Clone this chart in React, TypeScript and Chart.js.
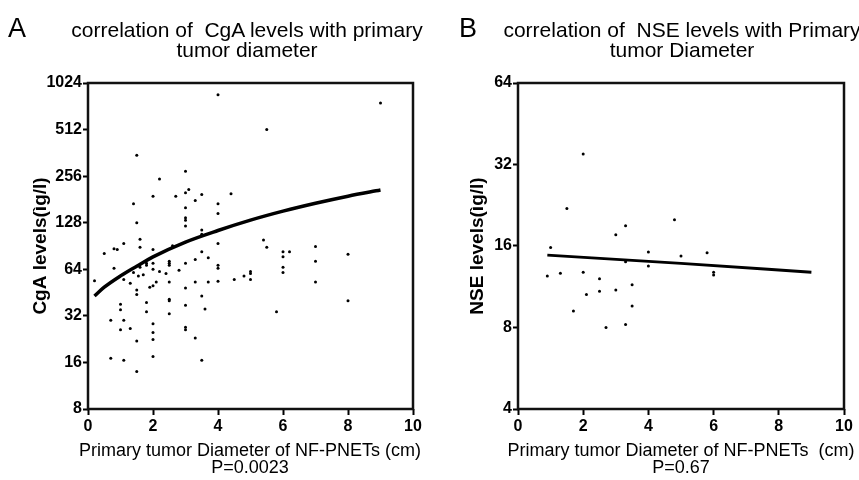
import React, { useEffect, useRef } from "react";
import { Chart, registerables } from "chart.js";
Chart.register(...registerables);

const FONT = "'Liberation Sans', Arial, sans-serif";

const xTicks = [0, 2, 4, 6, 8, 10];
const cgaTicks = [8, 16, 32, 64, 128, 256, 512, 1024];
const nseTicks = [4, 8, 16, 32, 64];

const cgaX = [4.0, 1.5, 3.0, 2.2, 3.1, 3.0, 2.0, 2.7, 3.5, 4.4, 3.3, 1.4, 4.0, 3.0, 4.0, 3.0, 3.0, 1.5, 3.0, 3.5, 3.5, 1.6, 1.1, 1.6, 0.8, 0.9, 2.0, 4.0, 3.5, 0.5, 3.7, 2.6, 9.0, 5.5, 5.4, 5.5, 7.0, 6.0, 6.2, 6.0, 8.0, 7.0, 5.0, 5.0, 5.0, 6.0, 6.0, 7.0, 8.0, 5.8, 3.3, 3.0, 2.5, 2.5, 2.5, 0.8, 1.8, 1.8, 2.0, 1.6, 2.0, 2.2, 2.4, 2.8, 4.0, 4.0, 1.4, 1.55, 1.7, 1.1, 1.3, 1.9, 2.0, 2.1, 2.5, 3.0, 3.3, 3.7, 4.0, 4.5, 4.8, 0.2, 1.5, 1.5, 2.5, 2.5, 3.5, 1.0, 1.8, 3.0, 1.0, 1.8, 3.6, 2.5, 0.7, 1.1, 2.0, 1.0, 1.3, 2.0, 3.0, 3.0, 3.3, 2.0, 1.5, 2.0, 0.7, 1.1, 3.5, 1.5];
const cgaY = [860, 350, 275, 245, 210, 200, 190, 190, 195, 197, 178, 170, 170, 160, 147, 138, 133, 128, 122, 115, 108, 100, 94, 89, 87, 86, 86, 94, 83, 81, 76, 91, 760, 512, 99, 89, 90, 83, 83, 77, 80, 72, 62, 60, 55, 66, 61, 53, 40, 34, 74, 70, 72, 70, 68, 65, 70, 68, 70, 66, 64, 62, 60, 63, 68, 65, 61, 58, 59, 55, 52, 49, 50, 53, 53, 48.5, 53, 53, 53.5, 55, 58, 54, 47, 44, 41, 40, 43, 38, 39, 37.5, 35, 34, 35.5, 33, 30, 30, 28.5, 26, 26.5, 25, 27, 26, 23, 22.5, 22, 17.5, 17, 16.5, 16.5, 14];

const cgaFitX = [0.2, 0.5, 1, 1.5, 2, 3, 4, 5, 6, 7, 8, 9];
const cgaFitY = [43, 49, 58, 67, 77, 96, 114, 133, 152, 171, 190, 208];

const nseX = [2.0, 1.5, 3.3, 3.0, 4.8, 1.0, 4.0, 3.3, 4.0, 0.9, 1.3, 2.0, 2.5, 3.5, 2.1, 2.5, 3.0, 3.5, 1.7, 2.7, 3.3, 5.0, 5.8, 6.0, 6.0];
const nseY = [35, 22, 19, 17.6, 20, 15.8, 15.2, 14, 13.5, 12.4, 12.7, 12.8, 12.1, 11.5, 10.6, 10.9, 11, 9.6, 9.2, 8.0, 8.2, 14.7, 15.1, 12.8, 12.5];

const nseFitX = [0.9, 5, 9];
const nseFitY = [14.8, 13.8, 12.8];

const framePlugin = {
  id: "frame",
  afterDatasetsDraw(chart: any) {
    const { ctx, chartArea: a } = chart;
    ctx.save();
    ctx.strokeStyle = "#111";
    ctx.lineWidth = 2.5;
    ctx.strokeRect(a.left, a.top, a.right - a.left, a.bottom - a.top);
    ctx.restore();
  },
};

type PanelProps = {
  width: number;
  padRight: number;
  yTicks: number[];
  yTitle: string;
  px: number[];
  py: number[];
  fx: number[];
  fy: number[];
  fitWidth: number;
  yTitlePad: number;
};

function Panel(p: PanelProps) {
  const ref = useRef<HTMLCanvasElement>(null);
  useEffect(() => {
    if (!ref.current) return;
    const chart = new Chart(ref.current, {
      type: "scatter",
      data: {
        datasets: [
          {
            type: "line",
            data: p.fx.map((x, i) => ({ x, y: p.fy[i] })),
            borderColor: "#000",
            borderWidth: p.fitWidth,
            pointRadius: 0,
            cubicInterpolationMode: "monotone",
            fill: false,
          } as any,
          {
            data: p.px.map((x, i) => ({ x, y: p.py[i] })),
            pointRadius: 1.5,
            backgroundColor: "#000",
            borderWidth: 0,
          },
        ],
      },
      options: {
        responsive: false,
        animation: false,
        layout: { padding: { left: 0, top: 83, right: p.padRight, bottom: 0 } },
        plugins: { legend: { display: false }, tooltip: { enabled: false } },
        scales: {
          x: {
            type: "linear",
            min: 0,
            max: 10,
            afterBuildTicks: (s: any) => {
              s.ticks = xTicks.map((v) => ({ value: v }));
            },
            afterFit: (s: any) => {
              s.height = 71;
            },
            grid: {
              display: true,
              drawOnChartArea: false,
              drawTicks: true,
              tickLength: 6,
              tickWidth: 2,
              tickColor: "#000",
            },
            border: { display: false },
            ticks: {
              color: "#000",
              font: { family: FONT, size: 16, weight: "bold" },
              padding: 2,
              maxRotation: 0,
              autoSkip: false,
              callback: (v: any) => String(v),
            },
          },
          y: {
            type: "logarithmic",
            min: p.yTicks[0],
            max: p.yTicks[p.yTicks.length - 1],
            afterBuildTicks: (s: any) => {
              s.ticks = p.yTicks.map((v) => ({ value: v }));
            },
            afterFit: (s: any) => {
              s.width = 88;
            },
            grid: {
              display: true,
              drawOnChartArea: false,
              drawTicks: true,
              tickLength: 5,
              tickWidth: 2,
              tickColor: "#000",
            },
            border: { display: false },
            ticks: {
              color: "#000",
              font: { family: FONT, size: 16, weight: "bold" },
              padding: 1,
              autoSkip: false,
              callback: (v: any) => String(v),
            },
            title: {
              display: true,
              text: p.yTitle,
              color: "#000",
              font: { family: FONT, size: 19, weight: "bold" },
              padding: { top: p.yTitlePad, bottom: 0 },
            },
          },
        },
      } as any,
      plugins: [framePlugin],
    });
    return () => chart.destroy();
  }, []);
  return <canvas ref={ref} width={p.width} height={480} style={{ display: "block", width: p.width, height: 480 }} />;
}

const titleStyle: React.CSSProperties = {
  position: "absolute",
  fontFamily: FONT,
  fontSize: 21,
  lineHeight: "20px",
  textAlign: "center",
  whiteSpace: "pre",
  color: "#000",
  top: 20,
};

const xTitleStyle: React.CSSProperties = {
  position: "absolute",
  fontFamily: FONT,
  fontSize: 18,
  lineHeight: "17px",
  textAlign: "center",
  whiteSpace: "pre",
  color: "#000",
  top: 442,
};

const letterStyle: React.CSSProperties = {
  position: "absolute",
  fontFamily: FONT,
  fontSize: 27,
  lineHeight: "27px",
  color: "#000",
  top: 15,
};

export default function App() {
  return (
    <div style={{ position: "fixed", left: 0, top: 0, width: 859, height: 480, background: "#fff", overflow: "hidden" }}>
      <div style={{ position: "absolute", left: 0, top: 0 }}>
        <Panel
          width={430}
          padRight={17}
          yTicks={cgaTicks}
          yTitle="CgA levels(ìg/l)"
          px={cgaX}
          py={cgaY}
          fx={cgaFitX}
          fy={cgaFitY}
          fitWidth={3.5}
          yTitlePad={29}
        />
      </div>
      <div style={{ position: "absolute", left: 430, top: 0 }}>
        <Panel
          width={429}
          padRight={15}
          yTicks={nseTicks}
          yTitle="NSE levels(ìg/l)"
          px={nseX}
          py={nseY}
          fx={nseFitX}
          fy={nseFitY}
          fitWidth={2.8}
          yTitlePad={36}
        />
      </div>
      <div style={{ ...letterStyle, left: 8 }}>A</div>
      <div style={{ ...letterStyle, left: 459 }}>B</div>
      <div style={{ ...titleStyle, left: 27, width: 440 }}>{"correlation of  CgA levels with primary\ntumor diameter"}</div>
      <div style={{ ...titleStyle, left: 492, width: 380 }}>{"correlation of  NSE levels with Primary\ntumor Diameter"}</div>
      <div style={{ ...xTitleStyle, left: 50, width: 400 }}>{"Primary tumor Diameter of NF-PNETs (cm)\nP=0.0023"}</div>
      <div style={{ ...xTitleStyle, left: 481, width: 400 }}>{"Primary tumor Diameter of NF-PNETs  (cm)\nP=0.67"}</div>
    </div>
  );
}
